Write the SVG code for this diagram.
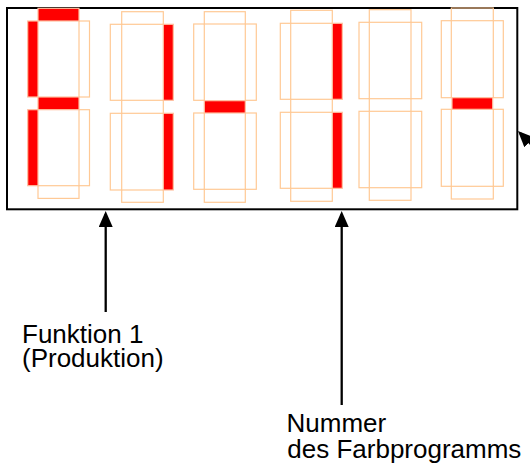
<svg xmlns="http://www.w3.org/2000/svg" width="530" height="466" viewBox="0 0 530 466">
<style>
.frame{fill:none;stroke:#000;stroke-width:2}
.off{fill:none;stroke:#FFC995;stroke-width:1.2}
.on{fill:#FF0000;stroke:#FFC0A0;stroke-width:1.2}
.conn{stroke:#000;stroke-width:2.3;fill:none;marker-end:url(#ah)}
.lbl{font-family:"Liberation Sans",Arial,sans-serif;font-size:26px;fill:#000}
</style>
<defs>
<marker id="ah" viewBox="0 0 16 14" refX="13" refY="7" markerWidth="16" markerHeight="14" markerUnits="userSpaceOnUse" orient="auto">
<path d="M0,0 L16,7 L0,14 z" fill="#000"/>
</marker>
</defs>
<rect id="frame" class="frame" x="7" y="8" width="510.3" height="201.3"/>
<g id="digit1" transform="translate(27.7,8.3)">
<rect class="off" x="51.3" y="12.7" width="10.5" height="76"/>
<rect class="off" x="51.3" y="101.4" width="10.5" height="76"/>
<rect class="off" x="10.3" y="177.4" width="41" height="12.7"/>
<rect class="on" x="10.3" y="0" width="41" height="12.7"/>
<rect class="on" x="0" y="12.7" width="10.3" height="76"/>
<rect class="on" x="10.3" y="88.7" width="41" height="12.7"/>
<rect class="on" x="0" y="101.4" width="10.3" height="76"/>
</g>
<g id="digit2" transform="translate(110.3,11.7)">
<rect class="off" x="11.4" y="0" width="41.6" height="12.6"/>
<rect class="off" x="0" y="12.6" width="11.4" height="76"/>
<rect class="off" x="11.4" y="88.6" width="41.6" height="13"/>
<rect class="off" x="0" y="101.6" width="11.4" height="76.7"/>
<rect class="off" x="11.4" y="178.3" width="41.6" height="12.3"/>
<rect class="on" x="53" y="12.6" width="10" height="76"/>
<rect class="on" x="53" y="101.6" width="10" height="76.7"/>
</g>
<g id="digit3" transform="translate(193.7,11.7)">
<rect class="off" x="10.6" y="0" width="41" height="12.3"/>
<rect class="off" x="0" y="12.3" width="10.6" height="76.3"/>
<rect class="off" x="51.6" y="12.3" width="11" height="76.3"/>
<rect class="off" x="0" y="101.3" width="10.6" height="76.3"/>
<rect class="off" x="51.6" y="101.3" width="11" height="76.3"/>
<rect class="off" x="10.6" y="177.6" width="41" height="13"/>
<rect class="on" x="10.6" y="89" width="41" height="12.3"/>
</g>
<g id="digit4" transform="translate(280.3,10.3)">
<rect class="off" x="10.4" y="0" width="41.6" height="13"/>
<rect class="off" x="0" y="13" width="10.4" height="76"/>
<rect class="off" x="10.4" y="89" width="41.6" height="13"/>
<rect class="off" x="0" y="102" width="10.4" height="76"/>
<rect class="off" x="10.4" y="178" width="41.6" height="13"/>
<rect class="on" x="52" y="13" width="10" height="76"/>
<rect class="on" x="52" y="102" width="10" height="76"/>
</g>
<g id="digit5" transform="translate(359,9.7)">
<rect class="off" x="10.3" y="0" width="41.7" height="12.6"/>
<rect class="off" x="0" y="12.6" width="10.3" height="76.4"/>
<rect class="off" x="52" y="12.6" width="10.7" height="76.4"/>
<rect class="off" x="10.3" y="89" width="41.7" height="12.6"/>
<rect class="off" x="0" y="101.6" width="10.3" height="76.4"/>
<rect class="off" x="52" y="101.6" width="10.7" height="76.4"/>
<rect class="off" x="10.3" y="178" width="41.7" height="12.6"/>
</g>
<g id="digit6" transform="translate(441.3,8)">
<rect class="off" x="10" y="0" width="42" height="12.7"/>
<rect class="off" x="0" y="12.7" width="10" height="77"/>
<rect class="off" x="52" y="12.7" width="10" height="77"/>
<rect class="off" x="0" y="101.3" width="10" height="77"/>
<rect class="off" x="52" y="101.3" width="10" height="77"/>
<rect class="off" x="10" y="178.3" width="42" height="12.7"/>
<rect class="on" x="10.7" y="89.7" width="40.7" height="11.6"/>
</g>
<g id="connectors">
<line class="conn" x1="105.7" y1="312" x2="105.7" y2="214"/>
<line class="conn" x1="341.7" y1="405" x2="341.7" y2="214"/>
<line class="conn" x1="548" y1="161" x2="520.1" y2="133.1"/>
</g>
<g id="label-funktion">
<text class="lbl" x="22" y="342.5">Funktion 1</text>
<text class="lbl" x="22" y="367">(Produktion)</text>
</g>
<g id="label-nummer">
<text class="lbl" x="286.5" y="432.3">Nummer</text>
<text class="lbl" x="287.3" y="458.3">des Farbprogramms</text>
</g>
</svg>
